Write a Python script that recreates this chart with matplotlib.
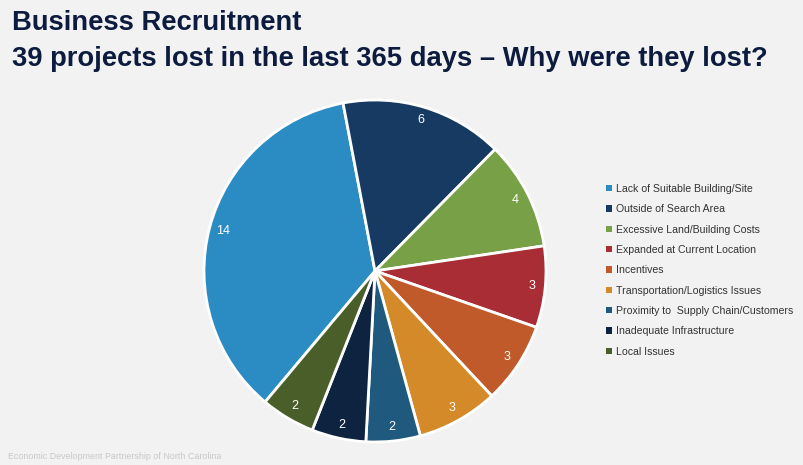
import matplotlib.pyplot as plt
from matplotlib.patches import Patch

reasons = ["Lack of Suitable Building/Site", "Outside of Search Area",
           "Excessive Land/Building Costs", "Expanded at Current Location",
           "Incentives", "Transportation/Logistics Issues",
           "Proximity to  Supply Chain/Customers", "Inadequate Infrastructure",
           "Local Issues"]
counts = [14, 6, 4, 3, 3, 3, 2, 2, 2]
colors = ["#2B8CC4", "#173A63", "#78A046", "#A82D35", "#C05A2A",
          "#D48A28", "#1F5A7E", "#0E2340", "#4A5E2A"]

plt.rcParams['font.family'] = ['Liberation Sans', 'DejaVu Sans']
bg = "#F2F2F2"

fig = plt.figure(figsize=(8.04, 4.65), dpi=100, facecolor=bg)

fig.text(0.015, 0.978, "Business Recruitment", fontsize=19.7, fontweight='bold',
         color="#0D1B3E", va='top')
fig.text(0.015, 0.9, "39 projects lost in the last 365 days \u2013 Why were they lost?",
         fontsize=19.7, fontweight='bold', color="#0D1B3E", va='top')

# pie centre ~ (375, 270) px, radius ~170 px
ax = fig.add_axes([(375 - 171) / 804, (465 - 271 - 171) / 465, 342 / 804, 342 / 465])
ax.set_facecolor(bg)
total = sum(counts)
wedges, texts, autotexts = ax.pie(
    counts, colors=colors, startangle=230, counterclock=False,
    autopct=lambda p: f"{round(p * total / 100):d}", pctdistance=0.92,
    wedgeprops=dict(edgecolor='white', linewidth=2),
    textprops=dict(color='white', fontsize=9))
ax.set_xlim(-1.0, 1.0)
ax.set_ylim(-1.0, 1.0)
ax.set_aspect('equal')

handles = [Patch(facecolor=c, edgecolor='none') for c in colors]
leg = fig.legend(handles, reasons, loc='upper left', bbox_to_anchor=(0.742, 0.625),
                 frameon=False, fontsize=7.6, handlelength=0.55, handleheight=0.55,
                 handletextpad=0.35, labelspacing=0.98, labelcolor="#333333")

fig.text(0.01, 0.012, "Economic Development Partnership of North Carolina",
         fontsize=6.4, color="#C8C8C8")

fig.savefig("out.png", dpi=100, facecolor=bg)
